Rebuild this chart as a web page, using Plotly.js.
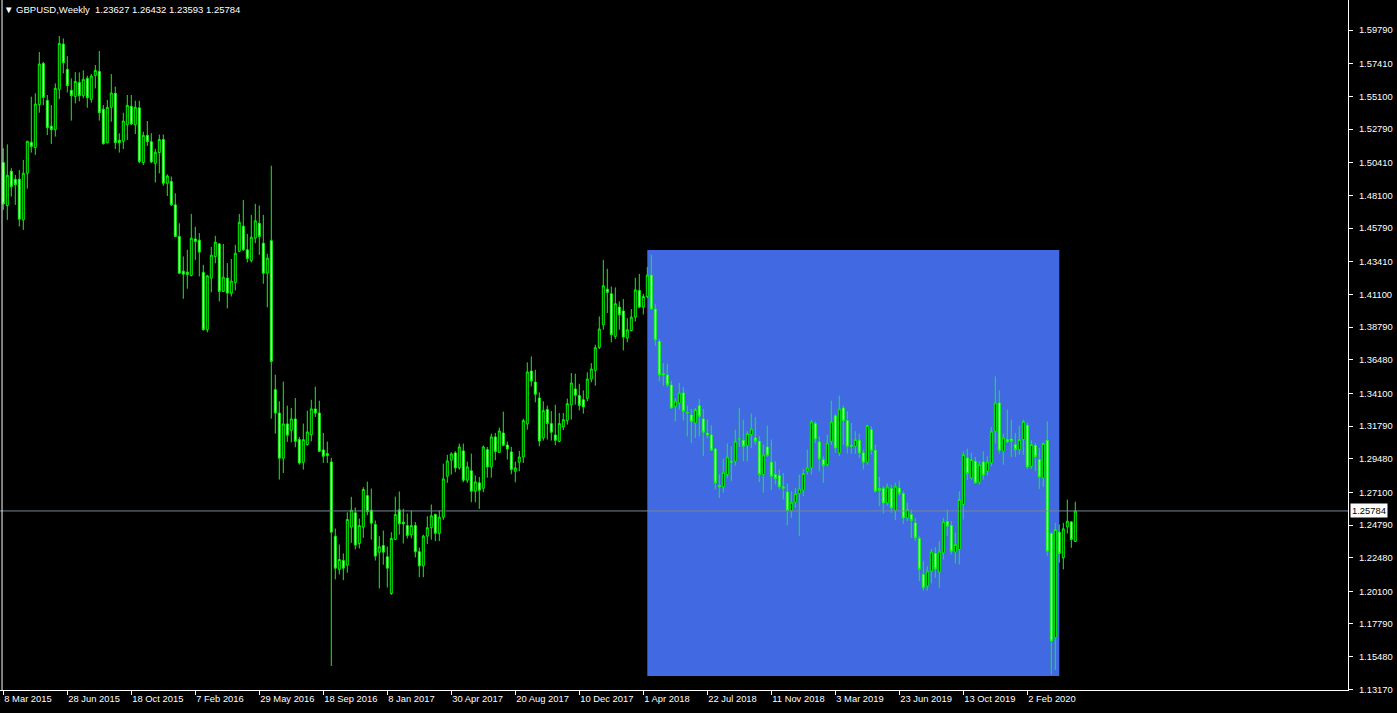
<!DOCTYPE html>
<html>
<head>
<meta charset="utf-8">
<script src="https://cdn.plot.ly/plotly-3.0.1.min.js"></script>
<style>
html,body{margin:0;padding:0;background:#000;}
#chart{width:1397px;height:713px;}
</style>
</head>
<body>
<div id="chart"></div>
<script>
// Weekly GBPUSD candles, first week starting 8 Mar 2015 (one entry per week)
const firstWeek = '2015-03-08';
const openP = [
1.5042,1.4738,1.4981,1.4924,1.4924,1.4637,1.4967,1.5186,1.5148,1.5452,
1.5743,1.5482,1.5299,1.5275,1.5560,1.5880,1.5701,1.5553,1.5510,1.5609,
1.5515,1.5638,1.5489,1.5659,1.5687,1.5419,1.5183,1.5433,1.5532,1.5200,
1.5193,1.5310,1.5440,1.5310,1.5429,1.5042,1.5235,1.5190,1.5037,1.5113,
1.5205,1.4896,1.4908,1.4743,1.4519,1.4274,1.4267,1.4244,1.4502,1.4493,
1.4265,1.3860,1.4225,1.4378,1.4467,1.4131,1.4225,1.4119,1.4195,1.4415,
1.4592,1.4425,1.4350,1.4508,1.4613,1.4472,1.4260,1.4490,1.3436,1.3271,
1.2951,1.3194,1.3149,1.3229,1.3083,1.2923,1.3048,1.3118,1.3300,1.3271,
1.3010,1.2984,1.2925,1.2400,1.2165,1.2228,1.2195,1.2464,1.2565,1.2348,
1.2464,1.2687,1.2584,1.2483,1.2287,1.2334,1.2254,1.1995,1.2377,1.2586,
1.2499,1.2475,1.2410,1.2475,1.2290,1.2190,1.2400,1.2460,1.2553,1.2420,
1.2534,1.2824,1.2937,1.2989,1.2883,1.3003,1.2796,1.2862,1.2718,1.2777,
1.2739,1.3012,1.2890,1.3102,1.2993,1.3130,1.3045,1.2996,1.2859,1.2923,
1.2960,1.3194,1.3568,1.3490,1.3377,1.3095,1.3295,1.3196,1.3116,1.3071,
1.3172,1.3219,1.3330,1.3441,1.3394,1.3365,1.3375,1.3511,1.3573,1.3735,
1.3895,1.4147,1.4114,1.3813,1.4020,1.3992,1.3801,1.3855,1.3949,1.4138,
1.4020,1.4095,1.4246,1.4006,1.3777,1.3549,1.3540,1.3469,1.3318,1.3342,
1.3413,1.3276,1.3257,1.3201,1.3323,1.3229,1.3130,1.3116,1.3017,1.2758,
1.2749,1.2836,1.2930,1.2930,1.3087,1.3078,1.3040,1.3118,1.3095,1.3071,
1.2836,1.3031,1.2923,1.2836,1.2829,1.2749,1.2713,1.2580,1.2640,1.2701,
1.2725,1.2859,1.2883,1.3196,1.3066,1.2941,1.2906,1.3071,1.3252,1.2989,
1.3306,1.3217,1.3043,1.3036,1.3078,1.2989,1.2923,1.3153,1.3007,1.2737,
1.2737,1.2635,1.2737,1.2584,1.2741,1.2701,1.2529,1.2553,1.2494,1.2383,
1.2129,1.2047,1.2153,1.2278,1.2146,1.2282,1.2504,1.2475,1.2287,1.2306,
1.2624,1.2953,1.2812,1.2930,1.2782,1.2925,1.2859,1.2918,1.3142,1.3342,
1.3001,1.3083,1.3087,1.3048,1.3012,1.3083,1.3182,1.2894,1.3041,1.2942,
1.2812,1.3078,1.2419,1.1682,1.2428,1.2247,1.2466,1.2501,1.23627
];
const highP = [
1.5143,1.5171,1.5002,1.4955,1.4990,1.5061,1.5196,1.5508,1.5532,1.5824,
1.5755,1.5520,1.5449,1.5602,1.5937,1.5920,1.5795,1.5638,1.5682,1.5680,
1.5694,1.5656,1.5668,1.5732,1.5831,1.5449,1.5485,1.5668,1.5579,1.5249,
1.5395,1.5520,1.5520,1.5480,1.5480,1.5260,1.5336,1.5250,1.5140,1.5240,
1.5240,1.4959,1.4943,1.4825,1.4613,1.4378,1.4425,1.4679,1.4588,1.4543,
1.4319,1.4248,1.4446,1.4524,1.4472,1.4467,1.4331,1.4361,1.4460,1.4679,
1.4778,1.4538,1.4672,1.4750,1.4738,1.4672,1.4397,1.5020,1.3542,1.3354,
1.3493,1.3323,1.3307,1.3377,1.3102,1.3196,1.3288,1.3365,1.3457,1.3358,
1.3130,1.3069,1.2954,1.2454,1.2341,1.2278,1.2569,1.2678,1.2603,1.2525,
1.2746,1.2786,1.2737,1.2511,1.2400,1.2440,1.2327,1.2428,1.2680,1.2716,
1.2593,1.2560,1.2581,1.2500,1.2320,1.2410,1.2541,1.2624,1.2560,1.2581,
1.2913,1.2975,1.2993,1.3001,1.3055,1.3055,1.2927,1.2984,1.2829,1.2819,
1.3041,1.3031,1.3125,1.3130,1.3168,1.3281,1.3069,1.3031,1.2927,1.3003,
1.3231,1.3629,1.3671,1.3577,1.3417,1.3354,1.3323,1.3285,1.3330,1.3271,
1.3271,1.3373,1.3554,1.3549,1.3478,1.3431,1.3559,1.3624,1.3754,1.3954,
1.4354,1.4291,1.4166,1.4159,1.4060,1.4077,1.3942,1.4006,1.4227,1.4255,
1.4114,1.4303,1.4390,1.4041,1.3794,1.3624,1.3620,1.3500,1.3375,1.3483,
1.3455,1.3323,1.3300,1.3307,1.3370,1.3300,1.3224,1.3184,1.3024,1.2836,
1.2949,1.3055,1.3036,1.3153,1.3307,1.3224,1.3142,1.3267,1.3243,1.3106,
1.3048,1.3182,1.3083,1.2930,1.2871,1.2847,1.2772,1.2718,1.2740,1.2835,
1.2876,1.3012,1.3224,1.3212,1.3106,1.2965,1.3118,1.3358,1.3266,1.3394,
1.3323,1.3283,1.3201,1.3142,1.3125,1.3012,1.3189,1.3177,1.3047,1.2819,
1.2753,1.2772,1.2765,1.2777,1.2793,1.2718,1.2636,1.2588,1.2530,1.2400,
1.2223,1.2188,1.2311,1.2322,1.2365,1.2530,1.2588,1.2506,1.2424,1.2718,
1.3000,1.3019,1.2989,1.2960,1.2930,1.3000,1.2965,1.3172,1.3530,1.3431,
1.3125,1.3295,1.3224,1.3130,1.3182,1.3224,1.3201,1.3078,1.3059,1.3024,
1.3064,1.3212,1.2428,1.2494,1.2483,1.2494,1.2659,1.2506,1.26432
];
const lowP = [
1.4708,1.4637,1.4802,1.4743,1.4590,1.4566,1.4858,1.5113,1.5096,1.5395,
1.5449,1.5237,1.5174,1.5226,1.5492,1.5673,1.5539,1.5339,1.5461,1.5475,
1.5496,1.5430,1.5466,1.5567,1.5339,1.5169,1.5178,1.5331,1.5138,1.5113,
1.5138,1.5202,1.5308,1.5244,1.5037,1.5025,1.5160,1.5037,1.4901,1.4966,
1.4877,1.4806,1.4736,1.4515,1.4256,1.4079,1.4150,1.4237,1.4354,1.4237,
1.3855,1.3841,1.4124,1.4330,1.4060,1.4126,1.4011,1.4095,1.4138,1.4409,
1.4418,1.4336,1.4336,1.4472,1.4390,1.4185,1.4018,1.3231,1.3125,1.2800,
1.2847,1.3067,1.3064,1.3029,1.2906,1.2871,1.3040,1.3071,1.3243,1.2998,
1.2918,1.2918,1.1482,1.2094,1.2129,1.2089,1.2141,1.2353,1.2306,1.2313,
1.2388,1.2548,1.2376,1.2228,1.2030,1.2198,1.2037,1.1985,1.2372,1.2411,
1.2348,1.2384,1.2385,1.2250,1.2110,1.2110,1.2345,1.2375,1.2365,1.2365,
1.2515,1.2777,1.2836,1.2852,1.2871,1.2781,1.2777,1.2640,1.2640,1.2593,
1.2711,1.2814,1.2814,1.2937,1.2989,1.3036,1.2942,1.2838,1.2781,1.2859,
1.2918,1.3153,1.3460,1.3347,1.3036,1.3076,1.3083,1.3076,1.3043,1.3064,
1.3150,1.3189,1.3224,1.3330,1.3290,1.3267,1.3354,1.3488,1.3464,1.3723,
1.3860,1.3978,1.3771,1.3794,1.3860,1.3714,1.3771,1.3848,1.3919,1.4013,
1.3968,1.4084,1.4001,1.3747,1.3495,1.3464,1.3455,1.3300,1.3212,1.3295,
1.3217,1.3106,1.3059,1.3095,1.3106,1.2965,1.3092,1.3001,1.2730,1.2671,
1.2706,1.2812,1.2789,1.2899,1.3031,1.2930,1.2930,1.3024,1.3048,1.2782,
1.2706,1.2960,1.2725,1.2765,1.2730,1.2659,1.2477,1.2530,1.2600,1.2400,
1.2683,1.2836,1.2836,1.3059,1.2859,1.2777,1.2890,1.3047,1.2989,1.2965,
1.3047,1.2984,1.2984,1.2982,1.2953,1.2871,1.2906,1.2977,1.2710,1.2612,
1.2560,1.2617,1.2565,1.2513,1.2687,1.2487,1.2506,1.2388,1.2365,1.2082,
1.2015,1.2015,1.2066,1.2106,1.2035,1.2235,1.2400,1.2271,1.2207,1.2200,
1.2518,1.2796,1.2800,1.2772,1.2765,1.2800,1.2829,1.2895,1.3055,1.2984,
1.2906,1.3059,1.2960,1.2960,1.2977,1.2977,1.2876,1.2876,1.2859,1.2734,
1.2749,1.2259,1.1423,1.1454,1.2212,1.2165,1.2419,1.2318,1.23593
];
const closeP = [
1.4750,1.4952,1.4872,1.4886,1.4642,1.4967,1.5193,1.5155,1.5456,1.5739,
1.5503,1.5289,1.5275,1.5567,1.5885,1.5748,1.5586,1.5515,1.5616,1.5515,
1.5631,1.5501,1.5654,1.5694,1.5395,1.5176,1.5433,1.5534,1.5183,1.5183,
1.5336,1.5447,1.5315,1.5433,1.5049,1.5235,1.5190,1.5047,1.5115,1.5205,
1.4896,1.4947,1.4743,1.4519,1.4260,1.4253,1.4251,1.4507,1.4484,1.4409,
1.3860,1.4241,1.4387,1.4479,1.4131,1.4232,1.4119,1.4204,1.4401,1.4620,
1.4425,1.4364,1.4515,1.4630,1.4519,1.4260,1.4366,1.3636,1.3271,1.2951,
1.3194,1.3114,1.3229,1.3071,1.2918,1.3083,1.3137,1.3300,1.3271,1.3000,
1.2965,1.2970,1.2428,1.2174,1.2235,1.2174,1.2518,1.2584,1.2337,1.2475,
1.2730,1.2572,1.2492,1.2259,1.2325,1.2287,1.2174,1.2384,1.2553,1.2487,
1.2487,1.2404,1.2475,1.2290,1.2190,1.2400,1.2460,1.2544,1.2420,1.2534,
1.2805,1.2932,1.2982,1.2883,1.3031,1.2796,1.2890,1.2718,1.2784,1.2725,
1.3031,1.2890,1.3102,1.2998,1.3144,1.3043,1.3017,1.2871,1.2883,1.2960,
1.3217,1.3561,1.3497,1.3403,1.3073,1.3288,1.3196,1.3135,1.3078,1.3196,
1.3224,1.3337,1.3483,1.3396,1.3325,1.3314,1.3511,1.3582,1.3733,1.3865,
1.4171,1.4124,1.3825,1.4044,1.3966,1.3808,1.3860,1.3949,1.4142,1.4020,
1.4095,1.4246,1.4006,1.3789,1.3540,1.3540,1.3471,1.3307,1.3356,1.3413,
1.3283,1.3271,1.3212,1.3295,1.3248,1.3135,1.3116,1.3008,1.2777,1.2749,
1.2852,1.2960,1.2923,1.3071,1.3088,1.3036,1.3125,1.3158,1.3071,1.2836,
1.2975,1.2972,1.2824,1.2807,1.2749,1.2739,1.2580,1.2640,1.2701,1.2734,
1.2843,1.2883,1.3208,1.3087,1.2946,1.2899,1.3059,1.3208,1.3024,1.3299,
1.3217,1.3036,1.3036,1.3083,1.2989,1.2923,1.3182,1.3007,1.2718,1.2723,
1.2635,1.2749,1.2600,1.2753,1.2701,1.2529,1.2588,1.2511,1.2388,1.2165,
1.2035,1.2153,1.2289,1.2169,1.2294,1.2501,1.2471,1.2294,1.2341,1.2659,
1.2977,1.2843,1.2942,1.2777,1.2906,1.2833,1.2925,1.3142,1.3342,1.3008,
1.3095,1.3067,1.3071,1.3012,1.3083,1.3212,1.2890,1.3048,1.2961,1.2819,
1.3055,1.2294,1.1658,1.2447,1.2278,1.2452,1.2506,1.2376,1.25784
];

// axis tick labels
const dateTickVals = ['2015-03-08','2015-06-28','2015-10-18','2016-02-07','2016-05-29','2016-09-18',
  '2017-01-08','2017-04-30','2017-08-20','2017-12-10','2018-04-01','2018-07-22','2018-11-11',
  '2019-03-03','2019-06-23','2019-10-13','2020-02-02'];
const dateTickText = ['8 Mar 2015','28 Jun 2015','18 Oct 2015','7 Feb 2016','29 May 2016','18 Sep 2016',
  '8 Jan 2017','30 Apr 2017','20 Aug 2017','10 Dec 2017','1 Apr 2018','22 Jul 2018','11 Nov 2018',
  '3 Mar 2019','23 Jun 2019','13 Oct 2019','2 Feb 2020'];
const priceTicks = [1.59790,1.57410,1.55100,1.52790,1.50410,1.48100,1.45790,1.43410,1.41100,1.38790,
  1.36480,1.34100,1.31790,1.29480,1.27100,1.24790,1.22480,1.20100,1.17790,1.15480,1.13170];

// highlighted zone (rectangle object on chart)
const zoneStart = '2018-04-08', zoneEnd = '2020-03-29';
const zoneTop = 1.4423, zoneBottom = 1.1411;
const lastPrice = 1.25784;
const titleText = '\u25BC\u00a0GBPUSD,Weekly\u00a0\u00a01.23627 1.26432 1.23593 1.25784';

const weekDates = [];
const t0 = Date.parse(firstWeek + 'T00:00:00Z');
for (let i = 0; i < openP.length; i++) {
  weekDates.push(new Date(t0 + i * 7 * 86400000).toISOString().slice(0, 10));
}

const lime = '#00ff00';
const trace = {
  type: 'candlestick',
  x: weekDates, open: openP, high: highP, low: lowP, close: closeP,
  increasing: {line: {color: lime, width: 1}, fillcolor: '#000000'},
  decreasing: {line: {color: lime, width: 1}, fillcolor: '#ffffff'},
  whiskerwidth: 0,
  hoverinfo: 'skip',
  showlegend: false
};

const fam = 'Liberation Sans, Arial, sans-serif';
const font = {family: fam, size: 9.4, color: '#ffffff'};

const layout = {
  width: 1397, height: 713,
  paper_bgcolor: '#000000', plot_bgcolor: '#000000',
  margin: {l: 0, r: 49, t: 0, b: 23, pad: 0},
  font: font,
  showlegend: false,
  title: {text: titleText, font: {family: fam, size: 9.5, color: '#ffffff'},
          xref: 'paper', x: 0.003, xanchor: 'left', yref: 'container', y: 1 - 10/713, yanchor: 'middle'},
  xaxis: {
    type: 'date',
    range: ['2015-03-02 05:24', '2021-08-16 05:24'],
    rangeslider: {visible: false},
    showgrid: false, zeroline: false,
    showline: true, linecolor: '#ffffff', linewidth: 1,
    ticks: 'outside', ticklen: 4, tickcolor: '#ffffff', tickwidth: 1,
    tickmode: 'array', tickvals: dateTickVals, ticktext: dateTickText,
    tickangle: 0,
    ticklabelposition: 'outside right',
    tickfont: font,
    fixedrange: true
  },
  yaxis: {
    side: 'right',
    range: [1.13121, 1.61919],
    showgrid: false, zeroline: false,
    showline: true, linecolor: '#ffffff', linewidth: 1,
    ticks: 'outside', ticklen: 4, tickcolor: '#ffffff', tickwidth: 1,
    tickmode: 'array', tickvals: priceTicks, ticktext: priceTicks.map(v => v.toFixed(5)),
    ticklabelstandoff: 4,
    tickfont: font,
    fixedrange: true
  },
  shapes: [
    {type: 'rect', layer: 'below', xref: 'x', yref: 'y', x0: zoneStart, x1: zoneEnd, y0: zoneBottom, y1: zoneTop,
     fillcolor: '#4169e1', line: {width: 0}},
    {type: 'line', layer: 'above', xref: 'paper', yref: 'y', x0: 0, x1: 1, y0: lastPrice, y1: lastPrice,
     line: {color: '#778899', width: 1}},
    {type: 'line', layer: 'above', xref: 'paper', yref: 'paper', x0: 0.0015, x1: 0.0015, y0: 0, y1: 1,
     line: {color: '#ffffff', width: 1}}
  ],
  annotations: [
    {xref: 'paper', yref: 'y', x: 1, y: lastPrice, xanchor: 'left', yanchor: 'middle', xshift: 2,
     text: lastPrice.toFixed(5), showarrow: false, bgcolor: '#ffffff', borderpad: 1,
     font: {family: fam, size: 9.4, color: '#000000'}}
  ]
};

Plotly.newPlot('chart', [trace], layout, {displayModeBar: false, staticPlot: true});
</script>
</body>
</html>
